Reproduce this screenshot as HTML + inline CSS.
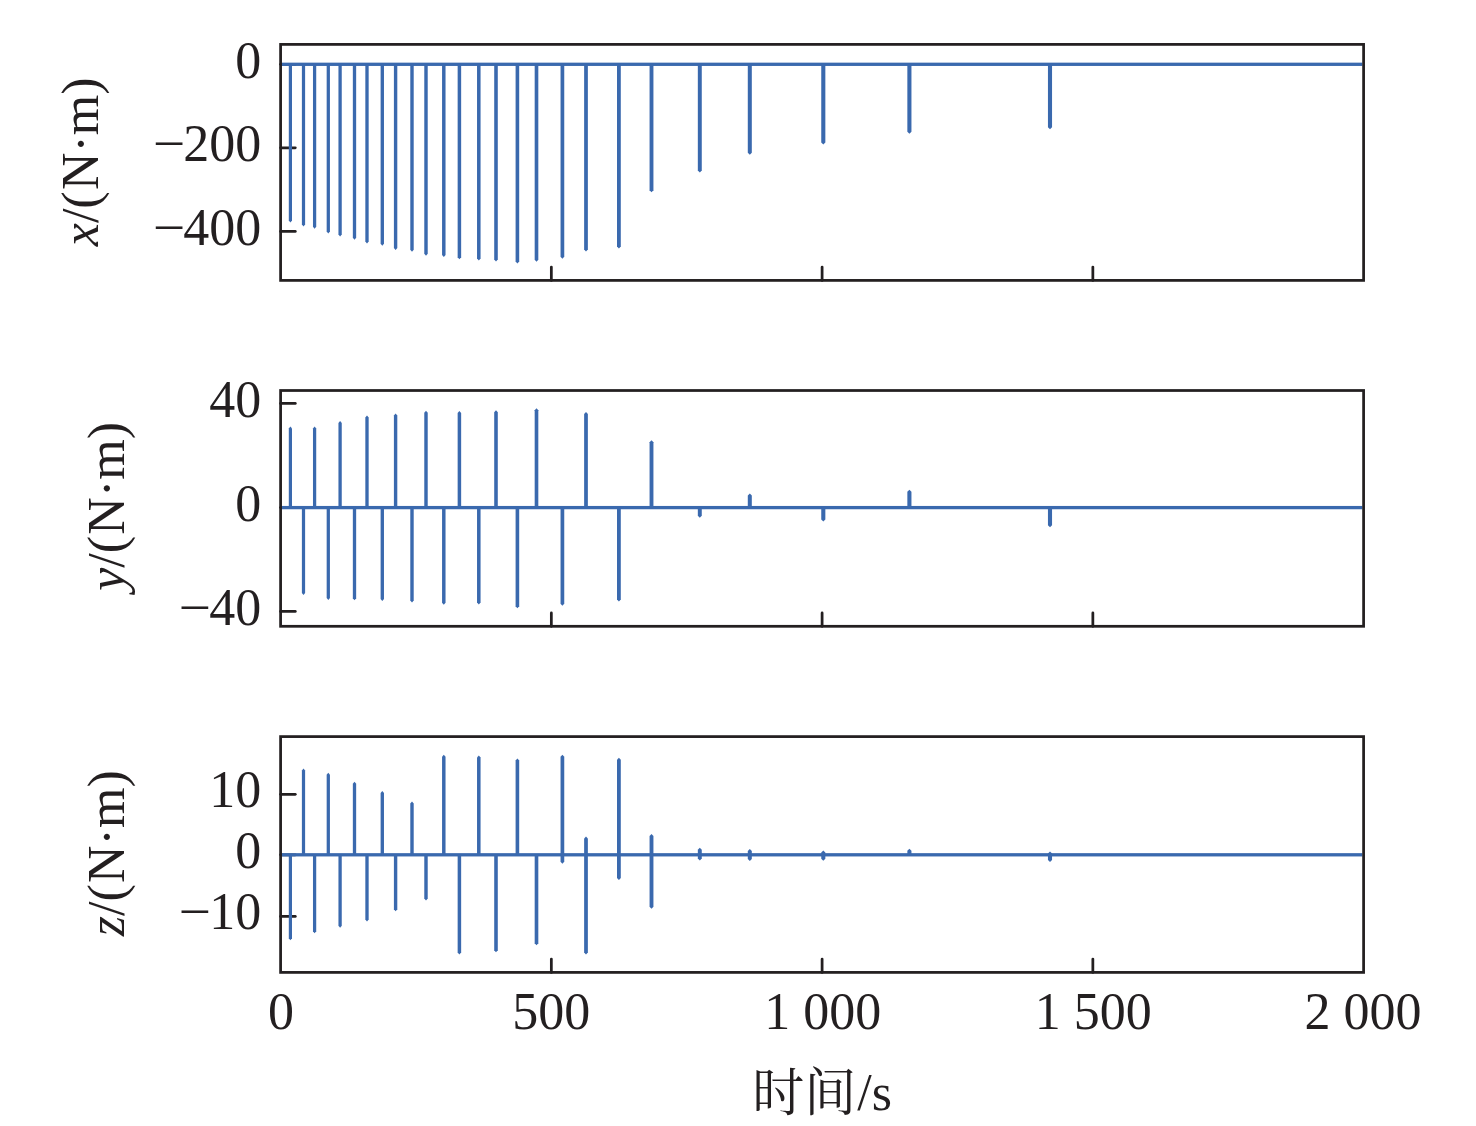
<!DOCTYPE html>
<html lang="zh">
<head>
<meta charset="utf-8">
<title>时间/s</title>
<style>
html,body{margin:0;padding:0;background:#fff;}
body{width:1476px;height:1126px;overflow:hidden;}
svg{display:block;}
text{font-family:"Liberation Serif","Noto Serif CJK SC",serif;fill:#231f20;}
.t{font-size:52px;}
</style>
</head>
<body>
<svg width="1476" height="1126" viewBox="0 0 1476 1126">
<rect x="0" y="0" width="1476" height="1126" fill="#ffffff"/>
<g id="panel1">
<g stroke="#231f20" stroke-width="2.75" stroke-linecap="round" fill="none">
<line x1="280.6" y1="64.3" x2="295.30" y2="64.3"/>
<line x1="280.6" y1="147.85" x2="295.30" y2="147.85"/>
<line x1="280.6" y1="231.4" x2="295.30" y2="231.4"/>
<line x1="551.35" y1="280.4" x2="551.35" y2="267.00"/>
<line x1="822.1" y1="280.4" x2="822.1" y2="267.00"/>
<line x1="1092.85" y1="280.4" x2="1092.85" y2="267.00"/>
</g>
<g fill="#3a69ae" stroke="none">
<rect x="281.80" y="62.65" width="1080.60" height="3.3"/>
<polygon points="288.80,64.30 288.80,220.50 290.40,222.50 292.00,220.50 292.00,64.30"/>
<polygon points="301.89,64.30 301.89,224.50 303.50,226.50 305.11,224.50 305.11,64.30"/>
<polygon points="312.98,64.30 312.98,226.80 314.60,228.80 316.22,226.80 316.22,64.30"/>
<polygon points="326.67,64.30 326.67,231.60 328.30,233.60 329.93,231.60 329.93,64.30"/>
<polygon points="338.45,64.30 338.45,234.40 340.10,236.40 341.75,234.40 341.75,64.30"/>
<polygon points="352.84,64.30 352.84,237.80 354.50,239.80 356.16,237.80 356.16,64.30"/>
<polygon points="365.33,64.30 365.33,241.50 367.00,243.50 368.67,241.50 368.67,64.30"/>
<polygon points="380.62,64.30 380.62,243.70 382.30,245.70 383.98,243.70 383.98,64.30"/>
<polygon points="393.90,64.30 393.90,248.00 395.60,250.00 397.30,248.00 397.30,64.30"/>
<polygon points="410.29,64.30 410.29,249.70 412.00,251.70 413.71,249.70 413.71,64.30"/>
<polygon points="424.28,64.30 424.28,253.70 426.00,255.70 427.72,253.70 427.72,64.30"/>
<polygon points="442.06,64.30 442.06,255.00 443.80,257.00 445.54,255.00 445.54,64.30"/>
<polygon points="457.65,64.30 457.65,257.30 459.40,259.30 461.15,257.30 461.15,64.30"/>
<polygon points="477.03,64.30 477.03,258.40 478.80,260.40 480.57,258.40 480.57,64.30"/>
<polygon points="494.21,64.30 494.21,259.50 496.00,261.50 497.79,259.50 497.79,64.30"/>
<polygon points="515.60,64.30 515.60,261.40 517.40,263.40 519.20,261.40 519.20,64.30"/>
<polygon points="534.68,64.30 534.68,259.80 536.50,261.80 538.32,259.80 538.32,64.30"/>
<polygon points="560.55,64.30 560.55,256.80 562.40,258.80 564.25,256.80 564.25,64.30"/>
<polygon points="584.13,64.30 584.13,249.60 586.00,251.60 587.87,249.60 587.87,64.30"/>
<polygon points="617.00,64.30 617.00,246.50 618.90,248.50 620.80,246.50 620.80,64.30"/>
<polygon points="649.57,64.30 649.57,190.30 651.50,192.30 653.43,190.30 653.43,64.30"/>
<polygon points="697.83,64.30 697.83,170.40 699.80,172.40 701.77,170.40 701.77,64.30"/>
<polygon points="747.79,64.30 747.79,152.80 749.80,154.80 751.81,152.80 751.81,64.30"/>
<polygon points="821.25,64.30 821.25,142.40 823.30,144.40 825.35,142.40 825.35,64.30"/>
<polygon points="907.35,64.30 907.35,131.70 909.40,133.70 911.45,131.70 911.45,64.30"/>
<polygon points="1047.95,64.30 1047.95,127.20 1050.00,129.20 1052.05,127.20 1052.05,64.30"/>
</g>
<rect x="280.6" y="44.4" width="1083.00" height="236.00" fill="none" stroke="#231f20" stroke-width="2.75" stroke-linejoin="miter"/>
<text class="t" x="261.2" y="77.60" text-anchor="end">0</text>
<text class="t" x="152.75" y="161.15" textLength="32.4" lengthAdjust="spacingAndGlyphs">−</text><text class="t" x="261.2" y="161.15" text-anchor="end">200</text>
<text class="t" x="152.75" y="244.70" textLength="32.4" lengthAdjust="spacingAndGlyphs">−</text><text class="t" x="261.2" y="244.70" text-anchor="end">400</text>
<text class="t" transform="translate(98.0,77.4) rotate(-90)" text-anchor="end"><tspan font-style="italic">x</tspan>/(<tspan dx="1.3">N·m)</tspan></text>
</g>
<g id="panel2">
<g stroke="#231f20" stroke-width="2.75" stroke-linecap="round" fill="none">
<line x1="280.6" y1="403.4" x2="295.30" y2="403.4"/>
<line x1="280.6" y1="507.6" x2="295.30" y2="507.6"/>
<line x1="280.6" y1="611.4" x2="295.30" y2="611.4"/>
<line x1="551.35" y1="626.3" x2="551.35" y2="612.90"/>
<line x1="822.1" y1="626.3" x2="822.1" y2="612.90"/>
<line x1="1092.85" y1="626.3" x2="1092.85" y2="612.90"/>
</g>
<g fill="#3a69ae" stroke="none">
<rect x="281.80" y="505.95" width="1080.60" height="3.3"/>
<polygon points="288.80,507.60 288.80,428.50 290.40,426.50 292.00,428.50 292.00,507.60"/>
<polygon points="301.89,507.60 301.89,593.00 303.50,595.00 305.11,593.00 305.11,507.60"/>
<polygon points="312.98,507.60 312.98,428.50 314.60,426.50 316.22,428.50 316.22,507.60"/>
<polygon points="326.67,507.60 326.67,598.10 328.30,600.10 329.93,598.10 329.93,507.60"/>
<polygon points="338.45,507.60 338.45,422.90 340.10,420.90 341.75,422.90 341.75,507.60"/>
<polygon points="352.84,507.60 352.84,598.20 354.50,600.20 356.16,598.20 356.16,507.60"/>
<polygon points="365.33,507.60 365.33,417.60 367.00,415.60 368.67,417.60 368.67,507.60"/>
<polygon points="380.62,507.60 380.62,599.00 382.30,601.00 383.98,599.00 383.98,507.60"/>
<polygon points="393.90,507.60 393.90,415.50 395.60,413.50 397.30,415.50 397.30,507.60"/>
<polygon points="410.29,507.60 410.29,600.60 412.00,602.60 413.71,600.60 413.71,507.60"/>
<polygon points="424.28,507.60 424.28,412.80 426.00,410.80 427.72,412.80 427.72,507.60"/>
<polygon points="442.06,507.60 442.06,602.80 443.80,604.80 445.54,602.80 445.54,507.60"/>
<polygon points="457.65,507.60 457.65,413.00 459.40,411.00 461.15,413.00 461.15,507.60"/>
<polygon points="477.03,507.60 477.03,602.50 478.80,604.50 480.57,602.50 480.57,507.60"/>
<polygon points="494.21,507.60 494.21,412.20 496.00,410.20 497.79,412.20 497.79,507.60"/>
<polygon points="515.60,507.60 515.60,606.30 517.40,608.30 519.20,606.30 519.20,507.60"/>
<polygon points="534.68,507.60 534.68,410.30 536.50,408.30 538.32,410.30 538.32,507.60"/>
<polygon points="560.55,507.60 560.55,603.80 562.40,605.80 564.25,603.80 564.25,507.60"/>
<polygon points="584.13,507.60 584.13,414.10 586.00,412.10 587.87,414.10 587.87,507.60"/>
<polygon points="617.00,507.60 617.00,599.50 618.90,601.50 620.80,599.50 620.80,507.60"/>
<polygon points="649.57,507.60 649.57,442.30 651.50,440.30 653.43,442.30 653.43,507.60"/>
<polygon points="697.83,507.60 697.83,515.70 699.80,517.70 701.77,515.70 701.77,507.60"/>
<polygon points="747.79,507.60 747.79,495.60 749.80,493.60 751.81,495.60 751.81,507.60"/>
<polygon points="821.25,507.60 821.25,519.50 823.30,521.50 825.35,519.50 825.35,507.60"/>
<polygon points="907.35,507.60 907.35,491.80 909.40,489.80 911.45,491.80 911.45,507.60"/>
<polygon points="1047.95,507.60 1047.95,525.20 1050.00,527.20 1052.05,525.20 1052.05,507.60"/>
</g>
<rect x="280.6" y="390.5" width="1083.00" height="235.80" fill="none" stroke="#231f20" stroke-width="2.75" stroke-linejoin="miter"/>
<text class="t" x="261.2" y="416.70" text-anchor="end">40</text>
<text class="t" x="261.2" y="520.90" text-anchor="end">0</text>
<text class="t" x="178.45" y="624.70" textLength="32.4" lengthAdjust="spacingAndGlyphs">−</text><text class="t" x="261.2" y="624.70" text-anchor="end">40</text>
<text class="t" transform="translate(124.1,422.0) rotate(-90)" text-anchor="end"><tspan font-style="italic">y</tspan>/(<tspan dx="1.3">N·m)</tspan></text>
</g>
<g id="panel3">
<g stroke="#231f20" stroke-width="2.75" stroke-linecap="round" fill="none">
<line x1="280.6" y1="794.3" x2="295.30" y2="794.3"/>
<line x1="280.6" y1="854.8" x2="295.30" y2="854.8"/>
<line x1="280.6" y1="916.4" x2="295.30" y2="916.4"/>
<line x1="551.35" y1="972.4" x2="551.35" y2="959.00"/>
<line x1="822.1" y1="972.4" x2="822.1" y2="959.00"/>
<line x1="1092.85" y1="972.4" x2="1092.85" y2="959.00"/>
</g>
<g fill="#3a69ae" stroke="none">
<rect x="281.80" y="853.15" width="1080.60" height="3.3"/>
<polygon points="288.80,854.80 288.80,938.30 290.40,940.30 292.00,938.30 292.00,854.80"/>
<polygon points="301.89,854.80 301.89,770.60 303.50,768.60 305.11,770.60 305.11,854.80"/>
<polygon points="312.98,854.80 312.98,931.20 314.60,933.20 316.22,931.20 316.22,854.80"/>
<polygon points="326.67,854.80 326.67,774.80 328.30,772.80 329.93,774.80 329.93,854.80"/>
<polygon points="338.45,854.80 338.45,925.80 340.10,927.80 341.75,925.80 341.75,854.80"/>
<polygon points="352.84,854.80 352.84,783.80 354.50,781.80 356.16,783.80 356.16,854.80"/>
<polygon points="365.33,854.80 365.33,919.60 367.00,921.60 368.67,919.60 368.67,854.80"/>
<polygon points="380.62,854.80 380.62,793.00 382.30,791.00 383.98,793.00 383.98,854.80"/>
<polygon points="393.90,854.80 393.90,909.30 395.60,911.30 397.30,909.30 397.30,854.80"/>
<polygon points="410.29,854.80 410.29,803.60 412.00,801.60 413.71,803.60 413.71,854.80"/>
<polygon points="424.28,854.80 424.28,898.40 426.00,900.40 427.72,898.40 427.72,854.80"/>
<polygon points="442.06,854.80 442.06,756.70 443.80,754.70 445.54,756.70 445.54,854.80"/>
<polygon points="457.65,854.80 457.65,952.60 459.40,954.60 461.15,952.60 461.15,854.80"/>
<polygon points="477.03,854.80 477.03,757.50 478.80,755.50 480.57,757.50 480.57,854.80"/>
<polygon points="494.21,854.80 494.21,950.20 496.00,952.20 497.79,950.20 497.79,854.80"/>
<polygon points="515.60,854.80 515.60,760.50 517.40,758.50 519.20,760.50 519.20,854.80"/>
<polygon points="534.68,854.80 534.68,943.20 536.50,945.20 538.32,943.20 538.32,854.80"/>
<polygon points="560.55,854.80 560.55,756.70 562.40,754.70 564.25,756.70 564.25,854.80"/>
<polygon points="560.55,854.80 560.55,861.80 562.40,863.80 564.25,861.80 564.25,854.80"/>
<polygon points="584.13,854.80 584.13,838.50 586.00,836.50 587.87,838.50 587.87,854.80"/>
<polygon points="584.13,854.80 584.13,952.60 586.00,954.60 587.87,952.60 587.87,854.80"/>
<polygon points="617.00,854.80 617.00,759.70 618.90,757.70 620.80,759.70 620.80,854.80"/>
<polygon points="617.00,854.80 617.00,878.10 618.90,880.10 620.80,878.10 620.80,854.80"/>
<polygon points="649.57,854.80 649.57,836.10 651.50,834.10 653.43,836.10 653.43,854.80"/>
<polygon points="649.57,854.80 649.57,906.70 651.50,908.70 653.43,906.70 653.43,854.80"/>
<polygon points="697.83,854.80 697.83,849.80 699.80,847.80 701.77,849.80 701.77,854.80"/>
<polygon points="697.83,854.80 697.83,858.40 699.80,860.40 701.77,858.40 701.77,854.80"/>
<polygon points="747.79,854.80 747.79,851.00 749.80,849.00 751.81,851.00 751.81,854.80"/>
<polygon points="747.79,854.80 747.79,859.00 749.80,861.00 751.81,859.00 751.81,854.80"/>
<polygon points="821.25,854.80 821.25,852.50 823.30,850.50 825.35,852.50 825.35,854.80"/>
<polygon points="821.25,854.80 821.25,858.70 823.30,860.70 825.35,858.70 825.35,854.80"/>
<polygon points="907.35,854.80 907.35,850.70 909.40,848.70 911.45,850.70 911.45,854.80"/>
<polygon points="1047.95,854.80 1047.95,853.40 1050.00,851.40 1052.05,853.40 1052.05,854.80"/>
<polygon points="1047.95,854.80 1047.95,859.90 1050.00,861.90 1052.05,859.90 1052.05,854.80"/>
</g>
<rect x="280.6" y="736.6" width="1083.00" height="235.80" fill="none" stroke="#231f20" stroke-width="2.75" stroke-linejoin="miter"/>
<text class="t" x="261.2" y="806.90" text-anchor="end">10</text>
<text class="t" x="261.2" y="868.10" text-anchor="end">0</text>
<text class="t" x="178.45" y="929.00" textLength="32.4" lengthAdjust="spacingAndGlyphs">−</text><text class="t" x="261.2" y="929.00" text-anchor="end">10</text>
<text class="t" transform="translate(124.1,770.3) rotate(-90)" text-anchor="end"><tspan font-style="italic">z</tspan>/(<tspan dx="1.3">N·m)</tspan></text>
</g>
<g id="xlabels">
<text class="t" x="281.1" y="1029.2" text-anchor="middle">0</text>
<text class="t" x="551.2" y="1029.2" text-anchor="middle">500</text>
<text class="t" x="822.8" y="1029.2" text-anchor="middle">1 000</text>
<text class="t" x="1093.2" y="1029.2" text-anchor="middle">1 500</text>
<text class="t" x="1363.1" y="1029.2" text-anchor="middle">2 000</text>
<text class="t cj" x="752.3" y="1111.2">时间</text><text class="t" x="857.2" y="1110">/s</text>
</g>
</svg>
</body>
</html>
